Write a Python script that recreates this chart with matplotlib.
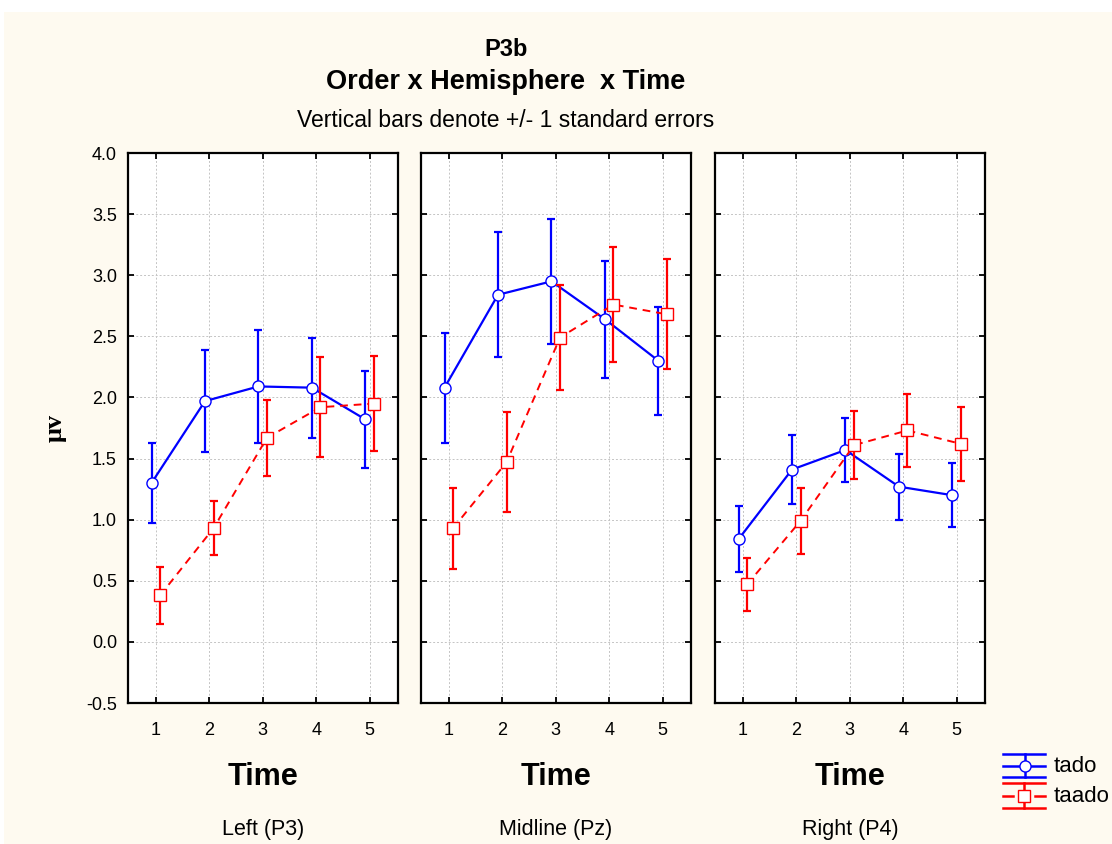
import numpy as np
import matplotlib
matplotlib.use('Agg')
import matplotlib.pyplot as plt
from matplotlib.patches import Rectangle

plt.rcParams['font.family'] = ['Liberation Sans', 'DejaVu Sans']
plt.rcParams['axes.unicode_minus'] = False

# Data: mean amplitude and standard error per region (rows) and time (columns)
time = [1, 2, 3, 4, 5]
regions = ['Left (P3)', 'Midline (Pz)', 'Right (P4)']
orders = ['tado', 'taado']

tado_mean = [[1.30, 1.97, 2.09, 2.08, 1.82],
             [2.08, 2.84, 2.95, 2.64, 2.30],
             [0.84, 1.41, 1.57, 1.27, 1.20]]
tado_se = [[0.33, 0.42, 0.46, 0.41, 0.40],
           [0.45, 0.51, 0.51, 0.48, 0.44],
           [0.27, 0.28, 0.26, 0.27, 0.26]]
taado_mean = [[0.38, 0.93, 1.67, 1.92, 1.95],
              [0.93, 1.47, 2.49, 2.76, 2.68],
              [0.47, 0.99, 1.61, 1.73, 1.62]]
taado_se = [[0.23, 0.22, 0.31, 0.41, 0.39],
            [0.33, 0.41, 0.43, 0.47, 0.45],
            [0.22, 0.27, 0.28, 0.30, 0.30]]
yticks = [-0.5, 0.0, 0.5, 1.0, 1.5, 2.0, 2.5, 3.0, 3.5, 4.0]

W, H = 1112, 844
BLUE = '#0000ff'
RED = '#ff0000'
BG = '#fefaf0'

fig = plt.figure(figsize=(W / 100, H / 100), dpi=100, facecolor='white')
fig.patches.append(Rectangle((4 / W, 0), 1, 1 - 12 / H, transform=fig.transFigure,
                             facecolor=BG, edgecolor='none', zorder=-10))

# titles
cx = 506 / W
fig.text(cx, 1 - 56 / H, 'P3b', ha='center', va='baseline', fontsize=17, fontweight='bold')
fig.text(cx, 1 - 89 / H, 'Order x Hemisphere  x Time', ha='center', va='baseline',
         fontsize=19.5, fontweight='bold')
fig.text(cx, 1 - 127 / H, 'Vertical bars denote +/- 1 standard errors', ha='center',
         va='baseline', fontsize=16.5)

lefts = [128, 421, 715]
pw = 270
top, bottom = 153, 703
x = np.array(time, dtype=float)

for i, region in enumerate(regions):
    ax = fig.add_axes([lefts[i] / W, 1 - bottom / H, pw / W, (bottom - top) / H])
    ax.set_facecolor('white')

    # tado: solid blue with circles, shifted slightly left
    ax.errorbar(x - 0.08, tado_mean[i], yerr=tado_se[i], fmt='none', ecolor=BLUE,
                elinewidth=1.6, capsize=2.8, capthick=1.6, zorder=3)
    ax.plot(x - 0.08, tado_mean[i], color=BLUE, lw=1.6, marker='o', ms=8,
            mfc='white', mec=BLUE, mew=1.0, zorder=4)

    # taado: dashed red with squares, shifted slightly right
    ax.errorbar(x + 0.08, taado_mean[i], yerr=taado_se[i], fmt='none', ecolor=RED,
                elinewidth=1.6, capsize=2.8, capthick=1.6, zorder=5)
    ax.plot(x + 0.08, taado_mean[i], color=RED, lw=1.4, ls=(0, (4, 3)), marker='s',
            ms=8, mfc='white', mec=RED, mew=1.0, zorder=6)

    ax.set_xlim(0.48, 5.53)
    ax.set_ylim(-0.5, 4.0)
    ax.set_xticks(time)
    ax.set_yticks(yticks)
    ax.set_yticklabels(['%.1f' % v for v in yticks])
    ax.grid(True, color='#c4c4c4', ls=(0, (2, 2)), lw=0.7)
    ax.set_axisbelow(True)
    for s in ax.spines.values():
        s.set_linewidth(1.6)
    ax.tick_params(direction='in', top=True, right=True, length=4, width=1.3,
                   labelsize=13)
    ax.tick_params(axis='x', pad=14)
    ax.tick_params(axis='y', pad=8, labelleft=(i == 0))

    xc = (lefts[i] + pw / 2) / W
    fig.text(xc, 1 - 785 / H, 'Time', ha='center', va='baseline', fontsize=22,
             fontweight='bold')
    fig.text(xc, 1 - 835 / H, region, ha='center', va='baseline', fontsize=15.5)

fig.text(55 / W, 1 - 428 / H, 'μv', rotation=90, ha='center', va='center',
         fontsize=19, fontweight='bold', family='Liberation Serif')

# legend drawn in pixel coordinates
leg = fig.add_axes([0, 0, 1, 1], facecolor='none')
leg.set_xlim(0, W)
leg.set_ylim(H, 0)
leg.axis('off')
for y in (754, 766, 777):
    leg.plot([1003, 1045], [y, y], color=BLUE, lw=1.8)
leg.plot([1025, 1025], [754, 777], color=BLUE, lw=1.8)
leg.plot([1025], [766], marker='o', ms=8, mfc='white', mec=BLUE, mew=1.0, color=BLUE)
for y in (783, 808):
    leg.plot([1003, 1045], [y, y], color=RED, lw=1.8)
leg.plot([1003, 1013], [796, 796], color=RED, lw=1.8)
leg.plot([1035, 1045], [796, 796], color=RED, lw=1.8)
leg.plot([1024, 1024], [783, 808], color=RED, lw=1.8)
leg.plot([1024], [796], marker='s', ms=8, mfc='white', mec=RED, mew=1.0, color=RED)
leg.text(1054, 767, orders[0], ha='left', va='center', fontsize=16)
leg.text(1054, 797, orders[1], ha='left', va='center', fontsize=16)

fig.savefig('out.png', dpi=100, facecolor=fig.get_facecolor())
